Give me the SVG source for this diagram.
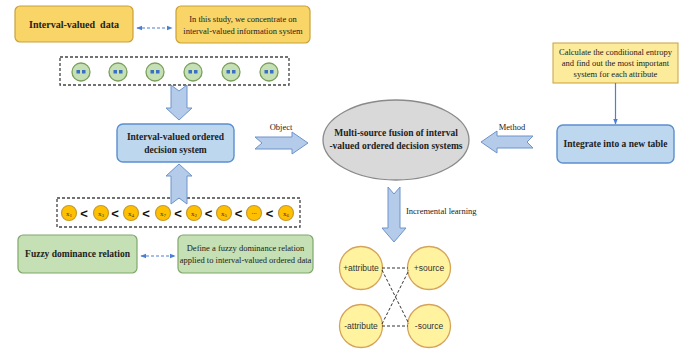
<svg xmlns="http://www.w3.org/2000/svg" width="687" height="351" viewBox="0 0 687 351">
<defs>
<style>
.t{font-family:"Liberation Serif","Times New Roman",serif;fill:#222}
.b{font-weight:bold}
.ybox{fill:#f9d466;stroke:#c8a13a;stroke-width:1.2}
.lybox{fill:#fdeb9c;stroke:#c8a13a;stroke-width:1}
.bbox{fill:#bdd7ee;stroke:#5b8fcf;stroke-width:1.4}
.gbox{fill:#c5e0b4;stroke:#7fa86a;stroke-width:1.2}
.barrow{fill:#b4cbe9;stroke:#6d94cc;stroke-width:1}
.dash{fill:none;stroke:#444;stroke-width:1.3;stroke-dasharray:3,2}
.gc{fill:#c5e0b4;stroke:#7a9f5c;stroke-width:1.3}
.sq{fill:#3a6fc4}
.oc{fill:#ffc000;stroke:#c69a30;stroke-width:1.2}
.pc{fill:#fff3a0;stroke:#d6a35a;stroke-width:1.3}
.dl{stroke:#333;stroke-width:1;stroke-dasharray:3,2;fill:none}
.blink{stroke:#4a7fd1;stroke-width:1.2;stroke-dasharray:3,2;fill:none}
.lt{fill:none;stroke:#111;stroke-width:1.8}
</style>
<marker id="ah" viewBox="0 0 10 10" refX="9" refY="5" markerWidth="5" markerHeight="5" orient="auto-start-reverse"><path d="M0,1 L10,5 L0,9 z" fill="#4a7fd1"/></marker>
<marker id="ah2" viewBox="0 0 10 10" refX="9" refY="5" markerWidth="5" markerHeight="5" orient="auto"><path d="M0,1 L10,5 L0,9 z" fill="#4a7fd1"/></marker>
</defs>
<rect width="687" height="351" fill="#fff"/>

<g id="interval-valued-data">
<rect class="ybox" x="15" y="6" width="118" height="36" rx="5"/>
<text class="t b" x="74" y="28" font-size="10" text-anchor="middle" xml:space="preserve">Interval-valued  data</text>
</g>
<g id="study-note">
<rect class="ybox" x="176" y="6" width="134" height="37" rx="5"/>
<text class="t" x="243" y="22" font-size="8.5" text-anchor="middle">In this study, we concentrate on</text>
<text class="t" x="243" y="34" font-size="8.5" text-anchor="middle">interval-valued information system</text>
</g>

<g id="data-objects">
<rect class="dash" x="60" y="57" width="229" height="28"/>
<g>
<circle class="gc" cx="81" cy="72" r="9"/><rect class="sq" x="76.5" y="70" width="3.5" height="3.5"/><rect class="sq" x="82" y="70" width="3.5" height="3.5"/>
<circle class="gc" cx="118" cy="72" r="9"/><rect class="sq" x="113.5" y="70" width="3.5" height="3.5"/><rect class="sq" x="119" y="70" width="3.5" height="3.5"/>
<circle class="gc" cx="155" cy="72" r="9"/><rect class="sq" x="150.5" y="70" width="3.5" height="3.5"/><rect class="sq" x="156" y="70" width="3.5" height="3.5"/>
<circle class="gc" cx="193" cy="72" r="9"/><rect class="sq" x="188.5" y="70" width="3.5" height="3.5"/><rect class="sq" x="194" y="70" width="3.5" height="3.5"/>
<circle class="gc" cx="231" cy="72" r="9"/><rect class="sq" x="226.5" y="70" width="3.5" height="3.5"/><rect class="sq" x="232" y="70" width="3.5" height="3.5"/>
<circle class="gc" cx="269" cy="72" r="9"/><rect class="sq" x="264.5" y="70" width="3.5" height="3.5"/><rect class="sq" x="270" y="70" width="3.5" height="3.5"/>
</g>
</g>

<g id="ivods">
<rect class="bbox" x="117" y="124" width="117" height="38" rx="6"/>
<text class="t b" x="175.5" y="140" font-size="9.5" text-anchor="middle">Interval-valued ordered</text>
<text class="t b" x="175.5" y="153" font-size="9.5" text-anchor="middle">decision system</text>
</g>

<g id="ordered-objects">
<rect class="dash" x="57" y="198" width="243" height="29"/>
<g font-family="Liberation Serif, serif" font-size="7" fill="#333" text-anchor="middle">
<circle class="oc" cx="69" cy="213" r="7.5"/><text x="69" y="215.5">x<tspan font-size="5" dy="1.5">1</tspan></text>
<circle class="oc" cx="101" cy="213" r="7.5"/><text x="101" y="215.5">x<tspan font-size="5" dy="1.5">3</tspan></text>
<circle class="oc" cx="131" cy="213" r="7.5"/><text x="131" y="215.5">x<tspan font-size="5" dy="1.5">4</tspan></text>
<circle class="oc" cx="163" cy="213" r="7.5"/><text x="163" y="215.5">x<tspan font-size="5" dy="1.5">7</tspan></text>
<circle class="oc" cx="194" cy="213" r="7.5"/><text x="194" y="215.5">x<tspan font-size="5" dy="1.5">2</tspan></text>
<circle class="oc" cx="224" cy="213" r="7.5"/><text x="224" y="215.5">x<tspan font-size="5" dy="1.5">5</tspan></text>
<circle class="oc" cx="254" cy="213" r="7.5"/><text x="254" y="214">...</text>
<circle class="oc" cx="286" cy="213" r="7.5"/><text x="286" y="215.5">x<tspan font-size="5" dy="1.5">6</tspan></text>
</g>
<g font-family="Liberation Sans, sans-serif" font-size="13" font-weight="bold" fill="#111" text-anchor="middle">
<text x="84" y="217.5">&lt;</text><text x="115" y="217.5">&lt;</text><text x="146" y="217.5">&lt;</text><text x="178" y="217.5">&lt;</text><text x="208.5" y="217.5">&lt;</text><text x="238.5" y="217.5">&lt;</text><text x="269.5" y="217.5">&lt;</text>
</g>
</g>

<g id="fuzzy-dominance">
<rect class="gbox" x="18" y="235" width="119" height="38" rx="5"/>
<text class="t b" x="77.5" y="257" font-size="9.5" text-anchor="middle">Fuzzy dominance relation</text>
</g>
<g id="fuzzy-note">
<rect class="gbox" x="178" y="235" width="135" height="38" rx="5"/>
<text class="t" x="245.5" y="251" font-size="8.5" text-anchor="middle">Define a fuzzy dominance relation</text>
<text class="t" x="245.5" y="263" font-size="8.5" text-anchor="middle">applied to interval-valued ordered data</text>
</g>

<g id="fusion">
<ellipse cx="396" cy="140" rx="73" ry="40" fill="#d9d9d9" stroke="#8a8a8a" stroke-width="1.3"/>
<text class="t b" x="396" y="136" font-size="9.5" text-anchor="middle">Multi-source fusion of interval</text>
<text class="t b" x="396" y="149" font-size="9.5" text-anchor="middle">-valued ordered decision systems</text>
</g>

<g id="entropy">
<rect class="lybox" x="553" y="43" width="125" height="40"/>
<text class="t" x="615.5" y="55" font-size="8.5" text-anchor="middle">Calculate the conditional entropy</text>
<text class="t" x="615.5" y="66" font-size="8.5" text-anchor="middle">and find out the most important</text>
<text class="t" x="615.5" y="77" font-size="8.5" text-anchor="middle">system for each attribute</text>
</g>
<g id="integrate">
<rect class="bbox" x="557" y="125" width="117" height="38" rx="6"/>
<text class="t b" x="615.5" y="147" font-size="9.5" text-anchor="middle">Integrate into a new table</text>
</g>

<g id="plus-attribute"><circle class="pc" cx="361" cy="268" r="21.5"/><text x="361" y="271" font-family="Liberation Sans, sans-serif" font-size="8.5" fill="#333" text-anchor="middle">+attribute</text></g>
<g id="plus-source"><circle class="pc" cx="429" cy="268" r="21.5"/><text x="429" y="271" font-family="Liberation Sans, sans-serif" font-size="8.5" fill="#333" text-anchor="middle">+source</text></g>
<g id="minus-attribute"><circle class="pc" cx="361" cy="326" r="21.5"/><text x="361" y="329" font-family="Liberation Sans, sans-serif" font-size="8.5" fill="#333" text-anchor="middle">-attribute</text></g>
<g id="minus-source"><circle class="pc" cx="429" cy="326" r="21.5"/><text x="429" y="329" font-family="Liberation Sans, sans-serif" font-size="8.5" fill="#333" text-anchor="middle">-source</text></g>

<g id="connectors">
<line class="blink" x1="137" y1="28" x2="172" y2="28" marker-start="url(#ah)" marker-end="url(#ah)"/>
<line class="blink" x1="141" y1="256" x2="175" y2="256" marker-start="url(#ah)" marker-end="url(#ah)"/>
<line x1="615.5" y1="83" x2="615.5" y2="124" stroke="#4a7fd1" stroke-width="1.2" marker-end="url(#ah2)"/>
<polygon class="barrow" points="171,85 179,91 187,85 187,108 192,108 179,120 166,108 171,108"/>
<polygon class="barrow" points="171,204 179,198 187,204 187,176 192,176 179,164 166,176 171,176"/>
<polygon class="barrow" points="255,137 292,137 292,132 308,143 292,154 292,149 255,149 262,143"/>
<polygon class="barrow" points="533,136 497,136 497,131 481,142 497,153 497,148 533,148 527,142"/>
<polygon class="barrow" points="388,187 394,194 400,187 400,228 406,228 394,242 382,228 388,228"/>
<text class="t" x="281" y="130" font-size="8.5" text-anchor="middle">Object</text>
<text class="t" x="512" y="130" font-size="8.5" text-anchor="middle">Method</text>
<text class="t" x="406" y="214" font-size="8.5">Incremental learning</text>
<line class="dl" x1="382" y1="268" x2="408" y2="268"/>
<line class="dl" x1="382" y1="326" x2="408" y2="326"/>
<line class="dl" x1="382" y1="270" x2="409" y2="324"/>
<line class="dl" x1="382" y1="324" x2="409" y2="270"/>
</g>
</svg>
